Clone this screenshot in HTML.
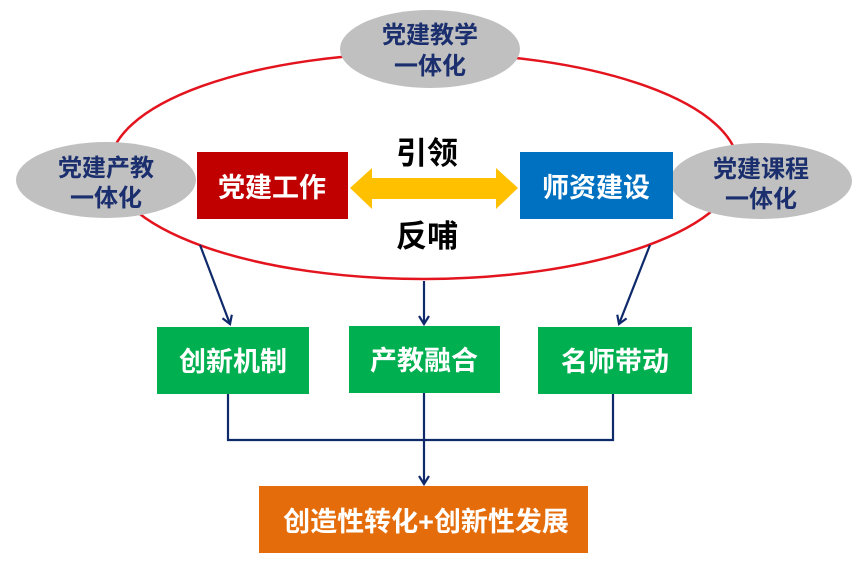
<!DOCTYPE html>
<html><head><meta charset="utf-8"><style>
body{margin:0;background:#fff;}
svg text{font-family:"Liberation Sans","Noto Sans CJK SC",sans-serif;font-weight:bold;text-anchor:middle;}
</style></head><body>
<svg width="867" height="564" viewBox="0 0 867 564" xmlns="http://www.w3.org/2000/svg">
<defs><marker id="a" markerWidth="12" markerHeight="12" refX="9" refY="6" orient="auto" markerUnits="userSpaceOnUse"><path d="M1,1 L9,6 L1,11" fill="none" stroke="#0f2a6b" stroke-width="2.2"/></marker></defs>
<ellipse cx="424" cy="166" rx="314" ry="113" fill="none" stroke="#e3141e" stroke-width="2.5"/>
<ellipse cx="430" cy="49" rx="90" ry="39" fill="#c0c0c0"/>
<ellipse cx="106" cy="180" rx="90" ry="38" fill="#c0c0c0"/>
<ellipse cx="761" cy="181" rx="91" ry="38" fill="#c0c0c0"/>
<g fill="#1b2f6e" font-size="24">
<text x="430" y="43">党建教学</text><text x="430" y="74">一体化</text>
<text x="106" y="176">党建产教</text><text x="106" y="206">一体化</text>
<text x="761" y="177">党建课程</text><text x="761" y="207">一体化</text>
</g>
<rect x="197" y="152" width="151" height="67" fill="#c00000"/>
<rect x="520" y="152" width="153" height="67" fill="#0070c0"/>
<text x="272" y="197" fill="#fff" font-size="27">党建工作</text>
<text x="596" y="197" fill="#fff" font-size="27">师资建设</text>
<path d="M350,188 L372,168 L372,178 L496,178 L496,168 L518,188 L496,209 L496,199 L372,199 L372,209 Z" fill="#ffc000"/>
<text x="427" y="164" fill="#000" font-size="31">引领</text>
<text x="427" y="247" fill="#000" font-size="31">反哺</text>
<g stroke="#0f2a6b" stroke-width="2.2" fill="none">
<line x1="200" y1="245" x2="230" y2="324" marker-end="url(#a)"/>
<line x1="424" y1="281" x2="424" y2="324" marker-end="url(#a)"/>
<line x1="650" y1="245" x2="619" y2="324" marker-end="url(#a)"/>
<polyline points="228,394 228,440 613,440 613,394"/>
<line x1="424" y1="393" x2="424" y2="484" marker-end="url(#a)"/>
</g>
<rect x="157" y="327" width="152" height="67" fill="#00b050"/>
<rect x="349" y="326" width="151" height="67" fill="#00b050"/>
<rect x="538" y="327" width="154" height="67" fill="#00b050"/>
<g fill="#fff" font-size="27">
<text x="233" y="371">创新机制</text><text x="424" y="370">产教融合</text><text x="615" y="371">名师带动</text>
</g>
<rect x="259" y="486" width="329" height="67" fill="#e46c0a"/>
<text x="426" y="531" fill="#fff" font-size="27">创造性转化+创新性发展</text>
</svg>
</body></html>
